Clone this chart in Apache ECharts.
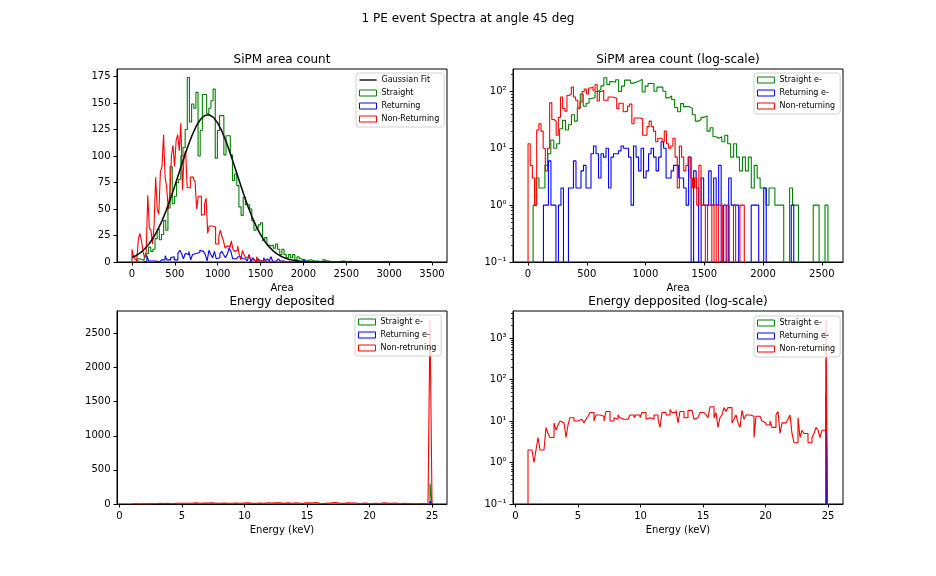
<!DOCTYPE html>
<html>
<head>
<meta charset="utf-8">
<title>1 PE event Spectra at angle 45 deg</title>
<script src="https://cdn.jsdelivr.net/npm/echarts@6/dist/echarts.min.js"></script>
<style>
    html, body { margin: 0; padding: 0; background: #fff; }
    #main { width: 936px; height: 576px; }
</style>
</head>
<body>
<div id="main"></div>
<script>
// SiPM area histograms: first bin edge, bin width, counts per bin
var straightAreaStart = 43, straightAreaWidth = 25.09;
var straightArea = [
    1, 3, 2, 2, 5, 8, 14, 10, 12, 22,
    31, 21, 26, 39, 30, 51, 90, 55, 62, 75,
    78, 100, 108, 125, 174, 132, 149, 145, 160, 100,
    124, 158, 158, 140, 145, 152, 163, 98, 124, 138,
    138, 101, 119, 119, 101, 77, 83, 72, 52, 44,
    61, 54, 54, 50, 39, 30, 32, 35, 37, 20,
    23, 16, 15, 16, 13, 17, 12, 7, 12, 7,
    4, 7, 4, 7, 2, 5, 3, 2, 2, 1,
    2, 2, 1, 1, 1, 0, 0, 2, 1, 1,
    0, 0, 0, 0, 0, 1, 1, 0, 0, 1
];
var returningAreaStart = 131, returningAreaWidth = 21.3;
var returningArea = [
    1, 1, 6, 1, 1, 0, 1, 2, 0, 0,
    2, 2, 6, 2, 2, 4, 5, 2, 2, 8,
    11, 8, 3, 8, 7, 10, 2, 7, 8, 8,
    9, 11, 10, 10, 7, 1, 11, 7, 4, 10,
    3, 4, 8, 10, 7, 4, 7, 13, 10, 3,
    3, 4, 5, 5, 3, 3, 2, 1, 7, 0,
    4, 2, 0, 3, 1, 1, 4, 1, 3, 1,
    5, 0, 1, 0, 3, 1, 1, 1, 0, 0,
    0, 0, 0, 1, 1, 1, 0, 0, 2, 0,
    0, 0, 0, 0, 0, 0, 0, 0, 0, 1
];
var nonReturningAreaStart = 0, nonReturningAreaWidth = 18.4;
var nonReturningArea = [
    12, 5, 3, 1, 21, 27, 20, 10, 4, 10,
    63, 32, 30, 17, 35, 80, 50, 45, 85, 90,
    120, 80, 70, 50, 65, 100, 110, 90, 115, 120,
    105, 131, 68, 100, 105, 70, 70, 80, 80, 78,
    76, 50, 62, 62, 44, 45, 55, 60, 27, 34,
    34, 34, 33, 17, 17, 24, 30, 24, 20, 13,
    15, 15, 13, 20, 12, 10, 11, 15, 7, 2,
    11, 7, 4, 5, 7, 3, 2, 3, 1, 5,
    1, 1, 0, 1, 1, 0, 1, 0, 1, 1,
    0, 0, 1, 0, 0, 1, 0, 0, 1, 1
];

// Gaussian fit curve
var gaussX = [0, 50, 100, 150, 200, 250, 300, 350, 400, 450, 500, 550, 600, 650, 700, 750, 800, 850, 900, 950,
    1000, 1050, 1100, 1150, 1200, 1250, 1300, 1350, 1400, 1450, 1500, 1550, 1600, 1650, 1700, 1750, 1800, 1850, 1900, 1950,
    2000, 2100, 2200, 2300, 2500, 3000, 3500];
var gaussY = [4.2, 6.2, 8.9, 12.5, 17.2, 23.1, 30.3, 38.8, 48.7, 59.8, 71.8, 84.3, 96.8, 108.7, 119.3, 128.2, 134.6, 138.2, 138.9, 136.4,
    131.0, 123.1, 113.1, 101.6, 89.3, 76.8, 64.5, 53.0, 42.6, 33.5, 25.8, 19.4, 14.2, 10.2, 7.2, 5.0, 3.3, 2.2, 1.4, 0.9,
    0.5, 0.2, 0.1, 0, 0, 0, 0];

// Energy deposited histograms (keV)
var energyStart = 1, energyWidth = 0.16;
var nonReturningEnergy = [
    2, 2, 2, 1, 2, 4, 2, 2, 2, 7,
    5, 4, 4, 9, 6, 8, 10, 9, 9, 4,
    8, 12, 12, 10, 10, 11, 11, 11, 9, 11,
    13, 16, 16, 10, 14, 14, 14, 13, 10, 17,
    17, 10, 10, 12, 11, 14, 12, 11, 11, 11,
    10, 14, 14, 12, 14, 14, 12, 16, 16, 11,
    12, 12, 11, 14, 14, 11, 7, 16, 16, 14,
    14, 19, 16, 16, 18, 9,
    17, 17, 12, 12, 18, 18, 18, 11, 12, 13,
    16, 16, 17, 14, 12, 22, 22, 12, 16, 7,
    12, 14, 21, 17, 21, 21, 9, 11, 14, 9,
    7, 18, 11, 14, 14, 14, 13, 4, 13, 13,
    12, 10, 9, 8, 8, 10, 7, 7, 14, 17,
    5, 9, 9, 9, 11, 14, 5, 3, 3, 12,
    4, 6, 5, 5, 3, 3, 4, 5, 7, 6,
    4, 6, 6, 2700
];
var peakEnergyStart = 24.84;
var straightEnergy = [300];
var returningEnergy = [45];

// axis ticks
var areaTicksLin = [0, 500, 1000, 1500, 2000, 2500, 3000, 3500];
var areaTicksLog = [0, 500, 1000, 1500, 2000, 2500];
var countTicksTop = [0, 25, 50, 75, 100, 125, 150, 175];
var countTicksBottom = [0, 500, 1000, 1500, 2000, 2500];
var energyTicks = [0, 5, 10, 15, 20, 25];
var logTicksTop = [0.1, 1, 10, 100];
var logTicksBottom = [0.1, 1, 10, 100, 1000];
var logMinorTop = [0.2, 0.3, 0.4, 0.5, 0.6, 0.7, 0.8, 0.9, 2, 3, 4, 5, 6, 7, 8, 9,
    20, 30, 40, 50, 60, 70, 80, 90, 200];
var logMinorBottom = [0.2, 0.3, 0.4, 0.5, 0.6, 0.7, 0.8, 0.9, 2, 3, 4, 5, 6, 7, 8, 9,
    20, 30, 40, 50, 60, 70, 80, 90, 200, 300, 400, 500, 600, 700, 800, 900, 2000, 3000, 4000];

var FONT = 'DejaVu Sans';
var GREEN = '#008000', BLUE = '#0000ff', RED = '#ff0000';

// outline of a step histogram, floor is used for the empty bins
function stepLine(start, width, counts, floor) {
    var pts = [[start, floor]];
    counts.forEach(function(c, i) {
        var v = Math.max(c, floor);
        pts.push([start + i * width, v], [start + (i + 1) * width, v]);
    });
    pts.push([start + counts.length * width, floor]);
    return pts;
}

var SUP = { '-': '\u207b', '0': '\u2070', '1': '\u00b9', '2': '\u00b2', '3': '\u00b3' };
function logLabel(v) {
    var e = String(Math.round(Math.log10(v)));
    return '10' + e.split('').map(function(ch) { return SUP[ch]; }).join('');
}
function plainLabel(v) {
    return String(v);
}

function xAxisFor(grid, min, max, ticks, name) {
    return {
        type: 'value', gridIndex: grid, min: min, max: max,
        name: name, nameLocation: 'middle', nameGap: 21,
        nameTextStyle: { fontSize: 10, color: '#000', fontFamily: FONT },
        axisLine: { show: true, onZero: false, lineStyle: { color: '#000', width: 1 } },
        axisTick: { show: true, length: 3.5, customValues: ticks, lineStyle: { color: '#000', width: 1 } },
        axisLabel: { customValues: ticks, margin: 7.5, fontSize: 10, color: '#000', fontFamily: FONT, formatter: plainLabel },
        splitLine: { show: false }
    };
}

function yAxisFor(grid, type, min, max, ticks) {
    return {
        type: type, gridIndex: grid, min: min, max: max, position: 'left',
        axisLine: { show: true, onZero: false, lineStyle: { color: '#000', width: 1 } },
        axisTick: { show: true, length: 3.5, customValues: ticks, lineStyle: { color: '#000', width: 1 } },
        axisLabel: {
            customValues: ticks, margin: 6.5, fontSize: 10, color: '#000', fontFamily: FONT,
            formatter: type === 'log' ? logLabel : plainLabel
        },
        splitLine: { show: false }
    };
}

function minorAxisFor(grid, min, max, ticks) {
    return {
        type: 'log', gridIndex: grid, min: min, max: max, position: 'left',
        axisLine: { show: false, onZero: false },
        axisTick: { show: true, length: 2, customValues: ticks, lineStyle: { color: '#000', width: 0.8 } },
        axisLabel: { show: false },
        splitLine: { show: false }
    };
}

function hist(name, color, xi, yi, data) {
    return {
        type: 'line', name: name, xAxisIndex: xi, yAxisIndex: yi, data: data,
        symbol: 'none', silent: true, clip: true,
        lineStyle: { color: color, width: 1.1 }, itemStyle: { color: color },
        emphasis: { disabled: true }
    };
}

function histItem(name, color) {
    return { name: name, icon: 'rect', itemStyle: { color: 'rgba(255,255,255,0)', borderColor: color, borderWidth: 1 } };
}

function legendAt(left, top, items) {
    return {
        orient: 'vertical', left: left, top: top, padding: [3, 5, 4, 3],
        itemWidth: 17, itemHeight: 6, itemGap: 5, symbolKeepAspect: true,
        backgroundColor: 'rgba(255,255,255,0.8)', borderColor: 'rgba(204,204,204,0.9)',
        borderWidth: 1, borderRadius: 3, selectedMode: false,
        textStyle: { fontSize: 8, color: '#000', fontFamily: FONT },
        data: items
    };
}

function titleAt(text, x, top) {
    return {
        text: text, left: x, top: top, textAlign: 'center', padding: 0,
        textStyle: { fontSize: 12, fontWeight: 'normal', color: '#000', fontFamily: FONT }
    };
}

var myChart = echarts.init(document.getElementById('main'), null, { renderer: 'canvas' });

var gaussData = gaussX.map(function(x, i) { return [x, gaussY[i]]; });
var LOGFLOOR = 0.001;

var option = {
    animation: false,
    backgroundColor: '#fff',
    title: [
        titleAt('1 PE event Spectra at angle 45 deg', 468, 13),
        titleAt('SiPM area count', 282, 54),
        titleAt('SiPM area count (log-scale)', 678, 54),
        titleAt('Energy deposited', 282, 296),
        titleAt('Energy depposited (log-scale)', 678, 296)
    ],
    legend: [
        legendAt(356, 73, [
            { name: 'Gaussian Fit', icon: 'path://M0,0L20,0L20,1.8L0,1.8Z', itemStyle: { color: '#222', borderWidth: 0 } },
            histItem('Straight', GREEN), histItem('Returning', BLUE), histItem('Non-Returning', RED)
        ]),
        legendAt(754, 73, [histItem('Straight e-', GREEN), histItem('Returning e-', BLUE), histItem('Non-returning', RED)]),
        legendAt(355, 315, [histItem('Straight e-', GREEN), histItem('Returning e-', BLUE), histItem('Non-retruning', RED)]),
        legendAt(754, 316, [histItem('Straight e-', GREEN), histItem('Returning e-', BLUE), histItem('Non-returning', RED)])
    ],
    grid: [
        { left: 117, top: 69, width: 330, height: 193, show: true, borderColor: '#000', borderWidth: 1 },
        { left: 513, top: 69, width: 330, height: 193, show: true, borderColor: '#000', borderWidth: 1 },
        { left: 117, top: 311, width: 330, height: 193, show: true, borderColor: '#000', borderWidth: 1 },
        { left: 513, top: 311, width: 330, height: 193, show: true, borderColor: '#000', borderWidth: 1 }
    ],
    xAxis: [
        xAxisFor(0, -175, 3675, areaTicksLin, 'Area'),
        xAxisFor(1, -128, 2680, areaTicksLog, 'Area'),
        xAxisFor(2, -0.2, 26.2, energyTicks, 'Energy (keV)'),
        xAxisFor(3, -0.2, 26.2, energyTicks, 'Energy (keV)')
    ],
    yAxis: [
        yAxisFor(0, 'value', 0, 182, countTicksTop),
        yAxisFor(1, 'log', 0.1, 248, logTicksTop),
        yAxisFor(2, 'value', 0, 2830, countTicksBottom),
        yAxisFor(3, 'log', 0.1, 4470, logTicksBottom),
        minorAxisFor(1, 0.1, 248, logMinorTop),
        minorAxisFor(3, 0.1, 4470, logMinorBottom)
    ],
    series: [
        hist('Straight', GREEN, 0, 0, stepLine(straightAreaStart, straightAreaWidth, straightArea, 0)),
        hist('Returning', BLUE, 0, 0, stepLine(returningAreaStart, returningAreaWidth, returningArea, 0)),
        hist('Non-Returning', RED, 0, 0, stepLine(nonReturningAreaStart, nonReturningAreaWidth, nonReturningArea, 0)),
        {
            type: 'line', name: 'Gaussian Fit', xAxisIndex: 0, yAxisIndex: 0, data: gaussData,
            symbol: 'none', silent: true, clip: true,
            lineStyle: { color: '#111', width: 1.6 }, itemStyle: { color: '#111' },
            emphasis: { disabled: true }
        },

        hist('Straight e-', GREEN, 1, 1, stepLine(straightAreaStart, straightAreaWidth, straightArea, LOGFLOOR)),
        hist('Returning e-', BLUE, 1, 1, stepLine(returningAreaStart, returningAreaWidth, returningArea, LOGFLOOR)),
        hist('Non-returning', RED, 1, 1, stepLine(nonReturningAreaStart, nonReturningAreaWidth, nonReturningArea, LOGFLOOR)),

        hist('Straight e-', GREEN, 2, 2, stepLine(peakEnergyStart, energyWidth, straightEnergy, 0)),
        hist('Returning e-', BLUE, 2, 2, stepLine(peakEnergyStart, energyWidth, returningEnergy, 0)),
        hist('Non-retruning', RED, 2, 2, stepLine(energyStart, energyWidth, nonReturningEnergy, 0)),

        hist('Straight e-', GREEN, 3, 3, stepLine(peakEnergyStart, energyWidth, straightEnergy, LOGFLOOR)),
        hist('Returning e-', BLUE, 3, 3, stepLine(peakEnergyStart, energyWidth, returningEnergy, LOGFLOOR)),
        hist('Non-returning', RED, 3, 3, stepLine(energyStart, energyWidth, nonReturningEnergy, LOGFLOOR))
    ]
};

myChart.setOption(option);
</script>
</body>
</html>
